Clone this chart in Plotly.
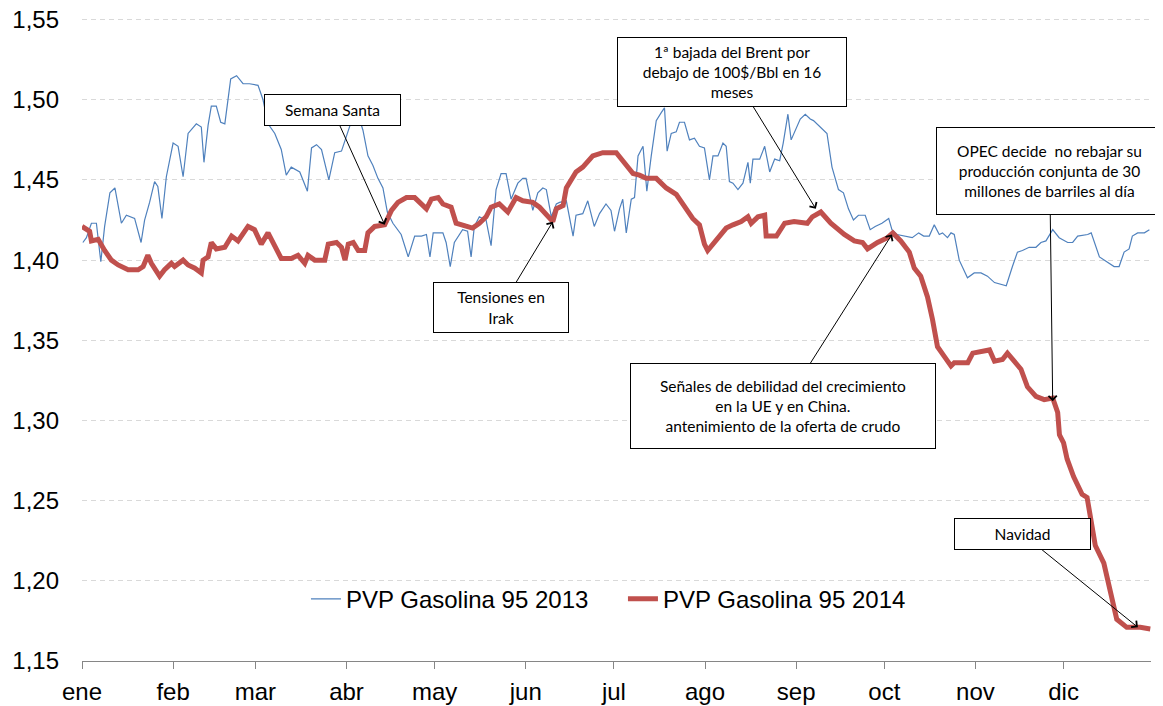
import pandas as pd
import plotly.graph_objects as go

# ---------------- data ----------------
# day of year (0 = 1 January) and price (EUR/l)
dias_2013 = [0.3, 1.5, 3.2, 4.9, 6.4, 7.7, 9.5, 11.2, 13.4, 15.1, 17.9, 20.1, 21.3, 23.0, 24.7, 25.8, 27.2, 28.7,
             31.0, 32.7, 34.4, 36.1, 38.9, 40.6, 41.5, 42.9, 44.0, 45.7, 47.2, 48.6, 50.6, 52.6, 54.8, 57.0, 59.9,
             61.6, 63.3, 65.6, 67.8, 69.5, 71.2, 74.1, 76.7, 78.1, 79.8, 81.5, 84.0, 86.0, 88.3, 91.2, 92.8, 93.9,
             95.6, 97.3, 99.0, 100.7, 102.4, 103.9, 105.8, 108.6, 111.0, 113.2, 115.5, 117.2, 118.4, 119.5, 121.2,
             122.8, 123.9, 125.3, 126.7, 129.5, 131.2, 132.4, 133.5, 135.2, 137.5, 139.2, 140.9, 142.6, 144.3,
             146.0, 148.3, 150.0, 151.1, 153.4, 155.1, 156.8, 158.0, 159.7, 161.4, 162.5, 164.8, 167.1, 168.1,
             170.4, 172.1, 174.3, 176.1, 178.3, 180.0, 181.2, 182.9, 184.0, 185.2, 186.9, 188.0, 189.2, 190.9,
             192.2, 193.7, 195.4, 197.1, 198.2, 199.1, 200.5, 202.2, 203.3, 205.0, 206.7, 208.4, 210.1, 211.8,
             213.5, 214.7, 216.4, 218.1, 219.2, 220.3, 221.5, 223.2, 224.9, 226.6, 227.4, 228.3, 230.6, 232.3,
             234.0, 235.7, 237.4, 238.6, 240.2, 241.3, 242.4, 244.4, 246.1, 247.8, 248.9, 251.2, 253.5, 255.2,
             257.4, 259.1, 260.8, 262.5, 264.2, 266.5, 268.2, 269.9, 272.2, 274.5, 275.6, 277.3, 280.3, 282.5,
             284.7, 286.4, 288.3, 290.0, 291.7, 292.8, 294.5, 295.7, 296.8, 298.5, 301.3, 303.6, 305.9, 308.1,
             310.5, 314.5, 316.6, 318.3, 320.0, 322.3, 324.6, 326.3, 328.0, 330.3, 332.5, 335.4, 337.1, 338.8,
             342.2, 343.4, 346.2, 349.5, 351.2, 352.9, 354.6, 356.3, 357.4, 359.2, 361.5, 363.2]
pvp_2013 = [1.411, 1.414, 1.423, 1.423, 1.399, 1.421, 1.442, 1.445, 1.423, 1.428, 1.426, 1.411, 1.425, 1.436,
            1.449, 1.446, 1.426, 1.452, 1.473, 1.471, 1.452, 1.479, 1.485, 1.483, 1.461, 1.484, 1.496, 1.496,
            1.486, 1.485, 1.513, 1.515, 1.510, 1.510, 1.509, 1.500, 1.485, 1.479, 1.469, 1.453, 1.458, 1.455,
            1.443, 1.470, 1.472, 1.469, 1.450, 1.467, 1.468, 1.484, 1.491, 1.491, 1.481, 1.465, 1.459, 1.451,
            1.445, 1.430, 1.423, 1.416, 1.402, 1.415, 1.415, 1.416, 1.402, 1.417, 1.417, 1.417, 1.411, 1.396,
            1.411, 1.419, 1.418, 1.402, 1.421, 1.427, 1.425, 1.409, 1.444, 1.454, 1.454, 1.438, 1.448, 1.451,
            1.451, 1.431, 1.442, 1.445, 1.444, 1.427, 1.435, 1.436, 1.437, 1.415, 1.428, 1.429, 1.437, 1.421,
            1.429, 1.435, 1.431, 1.418, 1.432, 1.438, 1.417, 1.438, 1.439, 1.465, 1.471, 1.443, 1.465, 1.487,
            1.492, 1.495, 1.468, 1.479, 1.480, 1.486, 1.486, 1.475, 1.476, 1.471, 1.470, 1.450, 1.465, 1.465,
            1.473, 1.471, 1.449, 1.448, 1.444, 1.448, 1.461, 1.448, 1.463, 1.463, 1.471, 1.455, 1.463, 1.462,
            1.473, 1.491, 1.475, 1.480, 1.488, 1.491, 1.488, 1.487, 1.483, 1.479, 1.458, 1.444, 1.442, 1.432,
            1.425, 1.428, 1.428, 1.419, 1.421, 1.423, 1.426, 1.419, 1.416, 1.415, 1.414, 1.417, 1.415, 1.415,
            1.422, 1.416, 1.417, 1.414, 1.417, 1.416, 1.400, 1.389, 1.392, 1.392, 1.390, 1.386, 1.384, 1.396,
            1.405, 1.406, 1.408, 1.408, 1.411, 1.412, 1.419, 1.414, 1.411, 1.411, 1.415, 1.416, 1.417, 1.402,
            1.398, 1.396, 1.396, 1.405, 1.407, 1.415, 1.417, 1.417, 1.419]

dias_2014 = [0.0, 2.6, 3.2, 5.5, 7.7, 10.0, 12.3, 15.7, 19.1, 20.8, 22.4, 23.6, 26.4, 28.1, 30.4, 31.5, 34.4, 36.1,
             38.4, 40.6, 41.2, 42.9, 44.0, 45.7, 48.6, 50.9, 53.1, 56.5, 58.7, 61.0, 63.3, 65.6, 67.8, 71.2, 73.5,
             75.8, 76.9, 79.2, 82.6, 83.8, 86.6, 88.3, 89.5, 90.6, 92.3, 94.0, 96.2, 97.3, 99.6, 103.0, 105.3,
             107.5, 110.4, 113.2, 115.5, 117.2, 118.9, 121.2, 122.8, 125.6, 127.3, 129.5, 132.9, 135.2, 137.5,
             139.2, 142.0, 144.9, 147.7, 150.0, 153.4, 155.7, 158.0, 160.2, 161.4, 163.7, 164.8, 168.1, 170.4,
             173.8, 177.2, 181.8, 184.0, 187.5, 189.7, 192.0, 195.4, 198.8, 202.2, 205.0, 207.8, 210.1, 211.8,
             212.9, 214.7, 216.9, 219.2, 221.5, 224.3, 226.6, 227.7, 230.0, 232.3, 232.8, 236.3, 239.1, 242.3,
             246.8, 248.5, 251.4, 254.8, 259.4, 262.8, 265.6, 267.3, 270.7, 274.1, 275.9, 278.6, 281.5, 283.2,
             285.4, 287.7, 289.4, 291.1, 293.4, 295.7, 296.8, 301.4, 303.1, 307.6, 308.8, 310.5, 313.2, 314.9,
             317.2, 319.5, 321.7, 324.6, 327.4, 330.3, 332.0, 332.6, 334.0, 335.2, 337.4, 340.3, 342.0, 343.7,
             344.8, 347.7, 349.3, 351.0, 352.1, 355.5, 360.1, 363.5]
pvp_2014 = [1.421, 1.418, 1.412, 1.413, 1.406, 1.400, 1.397, 1.394, 1.394, 1.396, 1.403, 1.398, 1.390, 1.394,
            1.398, 1.396, 1.400, 1.397, 1.395, 1.392, 1.400, 1.402, 1.411, 1.407, 1.408, 1.415, 1.412, 1.421,
            1.419, 1.410, 1.417, 1.408, 1.401, 1.401, 1.403, 1.398, 1.403, 1.400, 1.400, 1.410, 1.411, 1.408,
            1.400, 1.410, 1.411, 1.406, 1.406, 1.417, 1.421, 1.422, 1.431, 1.436, 1.439, 1.439, 1.435, 1.432,
            1.438, 1.439, 1.435, 1.433, 1.423, 1.422, 1.420, 1.423, 1.427, 1.433, 1.435, 1.430, 1.439, 1.437,
            1.436, 1.433, 1.428, 1.424, 1.432, 1.434, 1.445, 1.455, 1.458, 1.465, 1.467, 1.467, 1.462, 1.454,
            1.453, 1.451, 1.451, 1.445, 1.441, 1.433, 1.426, 1.422, 1.410, 1.406, 1.410, 1.415, 1.420, 1.422,
            1.424, 1.427, 1.423, 1.427, 1.428, 1.415, 1.415, 1.423, 1.424, 1.423, 1.427, 1.430, 1.423, 1.416,
            1.412, 1.411, 1.407, 1.411, 1.414, 1.417, 1.412, 1.405, 1.395, 1.390, 1.377, 1.363, 1.346, 1.340,
            1.334, 1.336, 1.336, 1.342, 1.344, 1.344, 1.337, 1.338, 1.342, 1.337, 1.332, 1.321, 1.315, 1.313,
            1.314, 1.305, 1.291, 1.286, 1.276, 1.265, 1.254, 1.252, 1.236, 1.222, 1.211, 1.197, 1.184, 1.176,
            1.171, 1.171, 1.170]

meses = ["ene", "feb", "mar", "abr", "may", "jun", "jul", "ago", "sep", "oct", "nov", "dic"]
y_ticks = [1.15, 1.20, 1.25, 1.30, 1.35, 1.40, 1.45, 1.50, 1.55]

# annotated events: (day of year, price pointed at)
eventos_texto = [
    "Semana Santa",
    "Tensiones en<br>Irak",
    "1ª bajada del Brent por<br>debajo de 100$/Bbl en 16<br>meses",
    "Señales de debilidad del crecimiento<br>en la UE y en China.<br>antenimiento de la oferta de crudo",
    "OPEC decide  no rebajar su<br>producción conjunta de 30<br>millones de barriles al día",
    "Navidad",
]
eventos_dia = [103.0, 160.2, 249.7, 275.6, 330.3, 359.3]
eventos_pvp = [1.422, 1.424, 1.432, 1.416, 1.312, 1.171]

# ---------------- figure ----------------
base = pd.Timestamp("2014-01-01")
to_dates = lambda d: [base + pd.Timedelta(days=v) for v in d]

fig = go.Figure()
fig.add_trace(go.Scatter(x=to_dates(dias_2013), y=pvp_2013, mode="lines",
                         name="PVP Gasolina 95 2013",
                         line=dict(color="#4F81BD", width=1.2)))
fig.add_trace(go.Scatter(x=to_dates(dias_2014), y=pvp_2014, mode="lines",
                         name="PVP Gasolina 95 2014",
                         line=dict(color="#C0504D", width=5)))

# box offsets (pixels from arrow tip to box centre) and box sizes
box_ax = [-52, -52, -84, -109, -3, -115]
box_ay = [-115, 86, -137, 172, -230, -93]
box_w = [136, 135, 229, 305, 226, 136]
box_h = [31, 50, 69, 85, 87, 31]

for txt, d, v, ax, ay, w, h in zip(eventos_texto, eventos_dia, eventos_pvp, box_ax, box_ay, box_w, box_h):
    fig.add_annotation(x=base + pd.Timedelta(days=d), y=v, text=txt,
                       ax=ax, ay=ay, axref="pixel", ayref="pixel",
                       showarrow=True, arrowhead=4, arrowsize=1.6, arrowwidth=1, arrowcolor="black",
                       bgcolor="white", bordercolor="black", borderwidth=1, borderpad=0,
                       width=w - 1, height=h - 1, align="center", valign="middle",
                       font=dict(family="Lato, Open Sans, sans-serif", size=15.5, color="black"))

# the page body has an 8px default margin, so the figure is 8px smaller
fig.update_layout(
    width=1155, height=698,
    margin=dict(l=74, r=12, t=10.4, b=44.5),
    paper_bgcolor="white", plot_bgcolor="white",
    separators=",.",
    font=dict(family="Liberation Sans, Arial, sans-serif", size=24, color="black"),
    showlegend=True,
    legend=dict(orientation="h", x=0.2095, xanchor="left", y=0.096, yanchor="middle",
                font=dict(size=24), bgcolor="rgba(0,0,0,0)", entrywidth=272),
    xaxis=dict(type="date",
               range=[base, base + pd.Timedelta(days=363.75)],
               tickvals=[pd.Timestamp(2014, m, 1) for m in range(1, 13)],
               ticktext=meses, automargin=False,
               showgrid=False, showline=True, linecolor="#868686", linewidth=1,
               ticks="outside", ticklen=7, tickcolor="#868686", tickwidth=1,
               ticklabelstandoff=2, tickfont=dict(size=24), zeroline=False),
    yaxis=dict(range=[1.15, 1.551], tickvals=y_ticks, tickformat=".2f", automargin=False,
               showgrid=True, gridcolor="#D9D9D9", griddash="5px,4px", gridwidth=1,
               ticks="", showline=False, zeroline=False, ticklabelstandoff=22,
               ticklabeloverflow="allow", tickfont=dict(size=24)),
)

fig.write_html("out.html")
